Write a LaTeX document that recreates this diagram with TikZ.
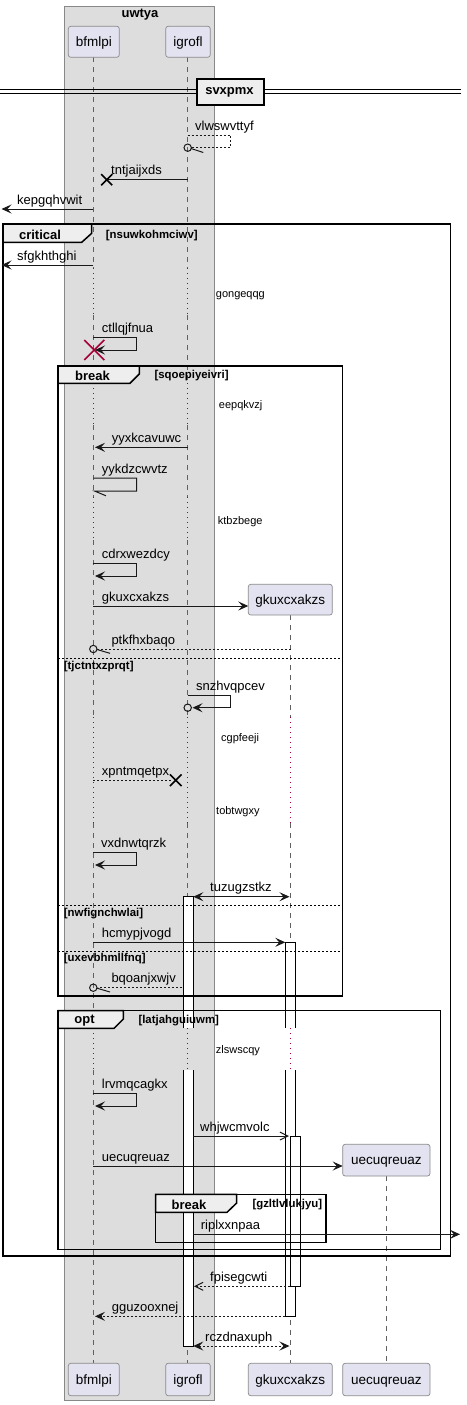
\documentclass[tikz,border=0pt]{standalone}
\usepackage{fontspec}
\setmainfont{Liberation Sans}
\usetikzlibrary{arrows.meta}
\definecolor{boxgray}{HTML}{DDDDDD}
\definecolor{boxdraw}{HTML}{888888}
\definecolor{partfill}{HTML}{E2E2F0}
\definecolor{partdraw}{HTML}{8A8A8A}
\definecolor{tabfill}{HTML}{EEEEEE}
\definecolor{delayc}{HTML}{A80036}
\definecolor{lifec}{HTML}{606060}
\def\lxa{93.3}
\def\lxb{187.7}
\def\lxc{290.5}
\def\lxd{386.7}
\begin{document}
\begin{tikzpicture}[x=1pt,y=-1pt,
  lifeline/.style={draw=lifec, line width=0.6pt, dash pattern=on 5pt off 5pt},
  delayline/.style={draw=delayc, line width=0.8pt, dash pattern=on 1pt off 4pt},
  part/.style={draw=partdraw, fill=partfill, rounded corners=2.5pt, line width=0.7pt},
  ptext/.style={font=\fontsize{13.5}{16}\selectfont, anchor=base, inner sep=0},
  mtext/.style={font=\fontsize{13}{15}\selectfont, anchor=base west, inner sep=0},
  dtext/.style={font=\fontsize{11}{13}\selectfont, anchor=base west, inner sep=0},
  ftitle/.style={font=\bfseries\fontsize{13}{15}\selectfont, anchor=base, inner sep=0},
  fcond/.style={font=\bfseries\fontsize{11.4}{13}\selectfont, anchor=base west, inner sep=0},
  frameb/.style={draw=black, line width=1.5pt},
  tabb/.style={draw=black, line width=1.5pt, fill=tabfill},
  elsel/.style={draw=black, line width=0.8pt, dash pattern=on 2pt off 2pt},
  msg/.style={draw=black!90, line width=1pt},
  rmsg/.style={draw=black!90, line width=1pt, dash pattern=on 2pt off 2pt},
  fa/.style={-{Stealth[length=10pt,width=9pt,inset=4pt]}},
  ba/.style={{Stealth[length=10pt,width=9pt,inset=4pt]}-{Stealth[length=10pt,width=9pt,inset=4pt]}},
  oa/.style={-{Straight Barb[length=8pt,width=8pt]}},
  act/.style={draw=black, line width=1pt},
  xmark/.style={draw=black, line width=1.6pt},
  lollip/.style={draw=black!90, line width=1pt},
]
\useasboundingbox (0,0) rectangle (466,1405);

% box uwtya
\draw[draw=boxdraw, fill=boxgray, line width=0.8pt] (64.3,6) rectangle (214.3,1400);
\node[ftitle] (boxtitle) at (140,17.5) {uwtya};

% lifelines
\foreach \x in {\lxa,\lxb}{
  \foreach \a/\b in {57.3/268, 315/383, 425/497, 540/717, 823/1028, 1070/1363.3}{
    \draw[lifeline] (\x,\a) -- (\x,\b);
  }
  \foreach \a/\b in {268/315, 383/425, 497/540, 717/823, 1028/1070}{
    \draw[delayline] (\x,\a) -- (\x,\b);
  }
}
\foreach \a/\b in {615/717, 823/1028, 1070/1363.3}{
  \draw[lifeline] (\lxc,\a) -- (\lxc,\b);
}
\foreach \a/\b in {717/823, 1028/1070}{
  \draw[delayline] (\lxc,\a) -- (\lxc,\b);
}
\draw[lifeline] (\lxd,1176) -- (\lxd,1363.3);

% divider
\draw[line width=0.9pt] (0,89.3) -- (461,89.3);
\draw[line width=0.9pt] (0,93.5) -- (461,93.5);
\node[draw=black, fill=tabfill, line width=1.8pt, minimum width=67.6pt, minimum height=26pt, inner sep=0, anchor=north west] (divbox) at (195.7,78.3) {};
\node[ftitle] (divtext) at (229.5,95) {svxpmx};

% activations
\fill[white] (183.3,896.7) rectangle (193.3,1028);
\draw[act] (183.3,1028) -- (183.3,896.7) -- (193.3,896.7) -- (193.3,1028);
\fill[white] (183.3,1070) rectangle (193.3,1346);
\draw[act] (183.3,1070) -- (183.3,1346) -- (193.3,1346) -- (193.3,1070);
\fill[white] (285.3,942.3) rectangle (295.3,1028);
\draw[act] (285.3,1028) -- (285.3,942.3) -- (295.3,942.3) -- (295.3,1028);
\fill[white] (285.3,1070) rectangle (295.3,1316.7);
\draw[act] (285.3,1070) -- (285.3,1316.7) -- (295.3,1316.7) -- (295.3,1070);
\draw[act, fill=white] (290,1136) rectangle (300.3,1286);

% frames
\draw[frameb] (3,224) rectangle (450.7,1256);
\draw[tabb] (3,224) -- (91.7,224) -- (91.7,233.3) -- (81.7,242.3) -- (3,242.3) -- cycle;
\node[ftitle] (critt) at (40,239) {critical};
\node[fcond] (critc) at (105.7,238) {[nsuwkohmciwv]};

\draw[frameb] (58,366) rectangle (342.7,996);
\draw[tabb] (58,366) -- (139.3,366) -- (139.3,374) -- (130,383.3) -- (58,383.3) -- cycle;
\node[ftitle] (brk1t) at (92.5,380.5) {break};
\node[fcond] (brk1c) at (154.3,378.5) {[sqoepiyeivri]};
\draw[elsel] (58,658.3) -- (342.7,658.3);
\node[fcond] (else1) at (63.7,669.4) {[tjctntxzprqt]};
\draw[elsel] (58,905.7) -- (342.7,905.7);
\node[fcond] (else2) at (63.7,916) {[nwfignchwlai]};
\draw[elsel] (58,951.3) -- (342.7,951.3);
\node[fcond] (else3) at (63.7,961.7) {[uxevbhmllfnq]};

\draw[frameb] (58,1010.7) rectangle (440.7,1249.3);
\draw[tabb] (58,1010.7) -- (123.3,1010.7) -- (123.3,1019) -- (114,1028.3) -- (58,1028.3) -- cycle;
\node[ftitle] (optt) at (84.5,1023) {opt};
\node[fcond] (optc) at (138.3,1023.4) {[latjahguiuwm]};

\draw[frameb] (155.7,1194.3) rectangle (326,1242.3);
\draw[tabb] (155.7,1194.3) -- (236.7,1194.3) -- (236.7,1203) -- (227,1212.3) -- (155.7,1212.3) -- cycle;
\node[ftitle] (brk2t) at (189,1209) {break};
\node[fcond] (brk2c) at (252.3,1207) {[gzltlvlukjyu]};

% delay texts
\node[dtext] (d1) at (215.7,297.5) {gongeqqg};
\node[dtext] (d2) at (218.7,408.8) {eepqkvzj};
\node[dtext] (d3) at (217.7,524.5) {ktbzbege};
\node[dtext] (d4) at (221,741.5) {cgpfeeji};
\node[dtext] (d5) at (216,814) {tobtwgxy};
\node[dtext] (d6) at (215.7,1053.5) {zlswscqy};

% messages
\draw[rmsg] (\lxb,135) -- (230.7,135) -- (230.7,147.7) -- (191.5,147.7);
\draw[lollip] (\lxb,147.7) circle (3.7);
\draw[lollip] (191,148.5) -- (203.3,152.5);
\node[mtext] (m1) at (195,130) {vlwswvttyf};

\draw[msg] (\lxb,179.3) -- (108,179.3);
\draw[xmark] (101.2,174.2) -- (112.2,185.2) (101.2,185.2) -- (112.2,174.2);
\node[mtext] (m2) at (111,174.3) {tntjaijxds};

\draw[msg,fa] (\lxa,209) -- (1.5,209);
\node[mtext] (m3) at (17,204) {kepgqhvwit};

\draw[msg,fa] (\lxa,265) -- (1.5,265);
\node[mtext] (m4) at (17,260) {sfgkhthghi};

\draw[draw=delayc, line width=1.6pt] (84.3,340) -- (104.3,360) (84.3,360) -- (104.3,340);
\draw[msg,fa] (\lxa,337) -- (136.7,337) -- (136.7,350) -- (95,350);
\node[mtext] (m5) at (101.7,332) {ctllqjfnua};

\draw[msg,fa] (\lxb,447.3) -- (95,447.3);
\node[mtext] (m6) at (111.7,442.3) {yyxkcavuwc};

\draw[msg] (\lxa,478) -- (136.7,478) -- (136.7,491) -- (94.5,491) -- (106,495.8);
\node[mtext] (m7) at (101.7,473) {yykdzcwvtz};

\draw[msg,fa] (\lxa,563.3) -- (136.7,563.3) -- (136.7,576) -- (95,576);
\node[mtext] (m8) at (101.7,558.3) {cdrxwezdcy};

\draw[msg,fa] (\lxa,606) -- (248.3,606);
\node[mtext] (m9) at (101.7,601) {gkuxcxakzs};

\draw[rmsg] (\lxc,649) -- (97.5,649);
\draw[lollip] (\lxa,649) circle (3.7);
\draw[lollip] (97,649.5) -- (110,653.3);
\node[mtext] (m10) at (111.3,644) {ptkfhxbaqo};

\draw[msg,fa] (\lxb,695.3) -- (230.7,695.3) -- (230.7,707.7) -- (192.5,707.7);
\draw[lollip] (\lxb,707.7) circle (3.7);
\node[mtext] (m11) at (196,690.3) {snzhvqpcev};

\draw[rmsg] (\lxa,780) -- (171,780);
\draw[xmark] (170,774.4) -- (181.6,786) (170,786) -- (181.6,774.4);
\node[mtext] (m12) at (101.7,775) {xpntmqetpx};

\draw[msg,fa] (\lxa,852.3) -- (136.7,852.3) -- (136.7,865) -- (95,865);
\node[mtext] (m13) at (101,847.3) {vxdnwtqrzk};

\draw[msg,ba] (193.3,896.7) -- (289.5,896.7);
\node[mtext] (m14) at (210,891.7) {tuzugzstkz};

\draw[msg,fa] (\lxa,942.3) -- (285.3,942.3);
\node[mtext] (m15) at (101.7,937.3) {hcmypjvogd};

\draw[rmsg] (181.5,987.7) -- (97.5,987.7);
\draw[lollip] (\lxa,987.7) circle (3.7);
\draw[lollip] (97,988.2) -- (110,992);
\node[mtext] (m16) at (111.3,982.7) {bqoanjxwjv};

\draw[msg,fa] (\lxa,1093.7) -- (136.7,1093.7) -- (136.7,1106) -- (95,1106);
\node[mtext] (m17) at (101.7,1088.7) {lrvmqcagkx};

\draw[msg,oa] (193.3,1136) -- (289,1136);
\node[mtext] (m18) at (200,1131) {whjwcmvolc};

\draw[msg,fa] (\lxa,1166) -- (342.7,1166);
\node[mtext] (m19) at (101.7,1161) {uecuqreuaz};

\draw[msg,fa] (193.3,1234.3) -- (460,1234.3);
\node[mtext] (m20) at (200.7,1229.3) {riplxxnpaa};

\draw[rmsg,oa] (290,1286.3) -- (194,1286.3);
\node[mtext] (m21) at (210,1281.3) {fpisegcwti};

\draw[rmsg,fa] (285.3,1316.3) -- (95,1316.3);
\node[mtext] (m22) at (111.7,1311.3) {gguzooxnej};

\draw[rmsg,ba] (193.3,1346) -- (289.5,1346);
\node[mtext] (m23) at (205,1341) {rczdnaxuph};

% participants
\draw[part] (68.3,26.3) rectangle (119.3,57.3);
\node[ptext] (pa) at (93.8,46.5) {bfmlpi};
\draw[part] (165.7,26.3) rectangle (210.3,57.3);
\node[ptext] (pb) at (188,46.5) {igrofl};
\draw[part] (248.3,584.3) rectangle (332.3,615);
\node[ptext] (pc) at (290.3,604) {gkuxcxakzs};
\draw[part] (342.7,1144.3) rectangle (430,1176);
\node[ptext] (pd) at (386.4,1164.5) {uecuqreuaz};

\draw[part] (68.3,1363.3) rectangle (119.3,1395.7);
\node[ptext] (pa2) at (93.8,1384) {bfmlpi};
\draw[part] (165.7,1363.3) rectangle (210.3,1395.7);
\node[ptext] (pb2) at (188,1384) {igrofl};
\draw[part] (248.3,1363.3) rectangle (332.3,1395.7);
\node[ptext] (pc2) at (290.3,1384) {gkuxcxakzs};
\draw[part] (342.7,1363.3) rectangle (430,1395.7);
\node[ptext] (pd2) at (386.4,1384) {uecuqreuaz};
\end{tikzpicture}
\end{document}
